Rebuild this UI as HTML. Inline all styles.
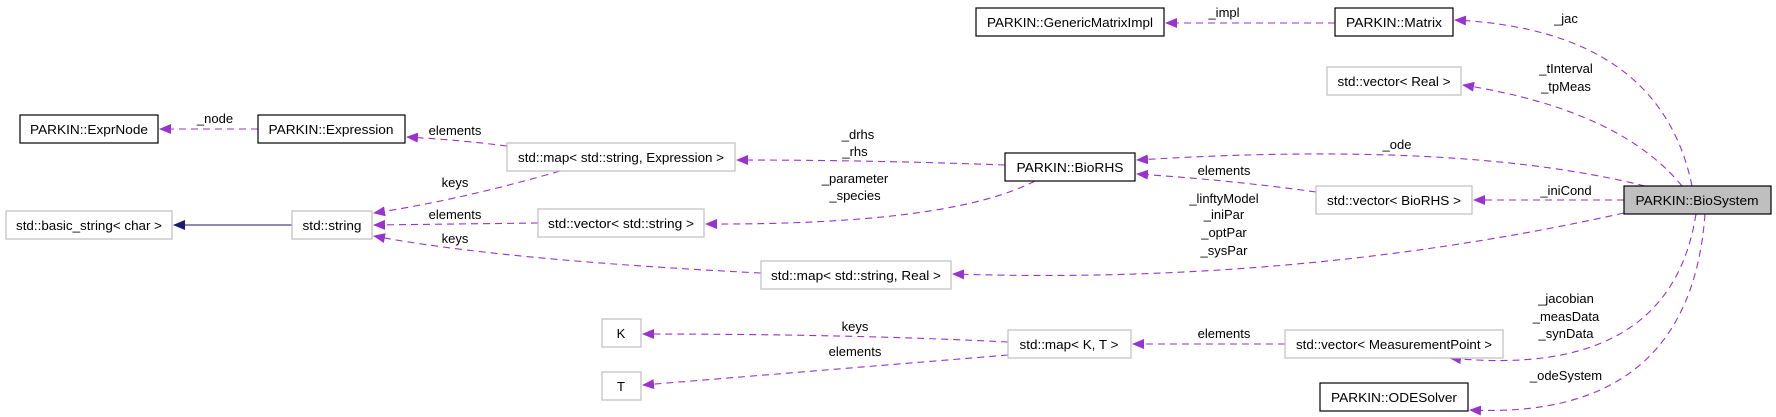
<!DOCTYPE html>
<html><head><meta charset="utf-8"><style>
html,body{margin:0;padding:0;background:#fff;}
svg{display:block;}
text{font-family:"Liberation Sans",sans-serif;font-size:13px;fill:#000;}
.e{fill:none;stroke:#9a32cd;stroke-width:1.1;stroke-dasharray:7,5;}
.bk{fill:#fff;stroke:#000;stroke-width:1.2;}
.gr{fill:#fff;stroke:#bfbfbf;stroke-width:1.2;}
</style></head><body>
<svg width="1776" height="417" viewBox="0 0 1776 417" xmlns="http://www.w3.org/2000/svg">
<defs>
<marker id="a" markerWidth="12" markerHeight="10" refX="11" refY="5" orient="auto" markerUnits="userSpaceOnUse">
<path d="M0,0 L12,5 L0,10 z" fill="#9a32cd"/></marker>
<marker id="n" markerWidth="12" markerHeight="10" refX="11" refY="5" orient="auto" markerUnits="userSpaceOnUse">
<path d="M0,0 L12,5 L0,10 z" fill="#191970"/></marker>
</defs>
<!-- edges -->
<path class="e" marker-end="url(#a)" d="M258,129 L160,129"/>
<path class="e" marker-end="url(#a)" d="M507,146 Q460,140 407,137"/>
<path class="e" marker-end="url(#a)" d="M1005,165 Q870,160 737,160"/>
<path class="e" marker-end="url(#a)" d="M538,223 L374,225"/>
<path class="e" marker-end="url(#a)" d="M560,171 Q460,200 374,213"/>
<path class="e" marker-end="url(#a)" d="M761,273 Q500,260 374,236"/>
<path class="e" marker-end="url(#a)" d="M1035,181 Q950,225 706,224"/>
<path class="e" d="M292,225 L174,225" style="stroke:#191970;stroke-dasharray:none" marker-end="url(#n)"/>
<path class="e" marker-end="url(#a)" d="M1008,342 Q850,334 643,334"/>
<path class="e" marker-end="url(#a)" d="M1008,355 Q850,368 643,385"/>
<path class="e" marker-end="url(#a)" d="M1285,344 L1133,344"/>
<path class="e" marker-end="url(#a)" d="M1335,23 L1166,23"/>
<path class="e" marker-end="url(#a)" d="M1692,186 Q1660,30 1455,20"/>
<path class="e" marker-end="url(#a)" d="M1682,186 Q1620,110 1463,85"/>
<path class="e" marker-end="url(#a)" d="M1645,186 Q1460,140 1137,160"/>
<path class="e" marker-end="url(#a)" d="M1316,192 Q1230,180 1137,174"/>
<path class="e" marker-end="url(#a)" d="M1624,200 L1474,200"/>
<path class="e" marker-end="url(#a)" d="M1624,213 Q1300,285 953,274"/>
<path class="e" marker-end="url(#a)" d="M1696,214 Q1670,380 1450,358"/>
<path class="e" marker-end="url(#a)" d="M1705,214 Q1690,420 1470,410"/>
<!-- nodes -->
<rect class="bk" x="20" y="115" width="138" height="28"/><text x="89" y="134" text-anchor="middle" textLength="118" lengthAdjust="spacingAndGlyphs">PARKIN::ExprNode</text>
<rect class="bk" x="258" y="115" width="147" height="28"/><text x="331" y="134" text-anchor="middle" textLength="125" lengthAdjust="spacingAndGlyphs">PARKIN::Expression</text>
<rect class="gr" x="507" y="143" width="228" height="28"/><text x="621" y="162" text-anchor="middle" textLength="206" lengthAdjust="spacingAndGlyphs">std::map&lt; std::string, Expression &gt;</text>
<rect class="gr" x="6" y="211" width="166" height="28"/><text x="89" y="230" text-anchor="middle" textLength="146" lengthAdjust="spacingAndGlyphs">std::basic_string&lt; char &gt;</text>
<rect class="gr" x="292" y="211" width="80" height="28"/><text x="332" y="230" text-anchor="middle" textLength="59" lengthAdjust="spacingAndGlyphs">std::string</text>
<rect class="gr" x="538" y="209" width="166" height="28"/><text x="621" y="228" text-anchor="middle" textLength="146" lengthAdjust="spacingAndGlyphs">std::vector&lt; std::string &gt;</text>
<rect class="gr" x="761" y="261" width="190" height="28"/><text x="856" y="280" text-anchor="middle" textLength="170" lengthAdjust="spacingAndGlyphs">std::map&lt; std::string, Real &gt;</text>
<rect class="gr" x="602" y="319" width="39" height="28"/><text x="621" y="338" text-anchor="middle">K</text>
<rect class="gr" x="602" y="372" width="39" height="28"/><text x="621" y="391" text-anchor="middle">T</text>
<rect class="bk" x="976" y="8" width="188" height="28"/><text x="1070" y="27" text-anchor="middle" textLength="166" lengthAdjust="spacingAndGlyphs">PARKIN::GenericMatrixImpl</text>
<rect class="bk" x="1335" y="8" width="118" height="28"/><text x="1394" y="27" text-anchor="middle" textLength="96" lengthAdjust="spacingAndGlyphs">PARKIN::Matrix</text>
<rect class="gr" x="1327" y="67" width="134" height="28"/><text x="1394" y="86" text-anchor="middle" textLength="113" lengthAdjust="spacingAndGlyphs">std::vector&lt; Real &gt;</text>
<rect class="bk" x="1005" y="153" width="130" height="28"/><text x="1070" y="172" text-anchor="middle" textLength="107" lengthAdjust="spacingAndGlyphs">PARKIN::BioRHS</text>
<rect class="gr" x="1316" y="186" width="156" height="28"/><text x="1394" y="205" text-anchor="middle" textLength="134" lengthAdjust="spacingAndGlyphs">std::vector&lt; BioRHS &gt;</text>
<rect x="1624" y="186" width="147" height="28" fill="#bfbfbf" stroke="#000" stroke-width="1.2"/><text x="1697" y="205" text-anchor="middle" textLength="123" lengthAdjust="spacingAndGlyphs">PARKIN::BioSystem</text>
<rect class="gr" x="1008" y="330" width="123" height="28"/><text x="1069" y="349" text-anchor="middle" textLength="99" lengthAdjust="spacingAndGlyphs">std::map&lt; K, T &gt;</text>
<rect class="gr" x="1285" y="330" width="218" height="28"/><text x="1394" y="349" text-anchor="middle" textLength="196" lengthAdjust="spacingAndGlyphs">std::vector&lt; MeasurementPoint &gt;</text>
<rect class="bk" x="1320" y="383" width="148" height="28"/><text x="1394" y="402" text-anchor="middle" textLength="126" lengthAdjust="spacingAndGlyphs">PARKIN::ODESolver</text>
<!-- labels -->
<g text-anchor="middle">
<text x="215" y="123">_node</text>
<text x="455" y="135">elements</text>
<text x="858" y="139">_drhs</text>
<text x="855" y="156">_rhs</text>
<text x="855" y="183">_parameter</text>
<text x="855" y="200">_species</text>
<text x="455" y="187">keys</text>
<text x="455" y="219">elements</text>
<text x="455" y="243">keys</text>
<text x="855" y="331">keys</text>
<text x="855" y="356">elements</text>
<text x="1224" y="17">_impl</text>
<text x="1566" y="23">_jac</text>
<text x="1566" y="73">_tInterval</text>
<text x="1566" y="91">_tpMeas</text>
<text x="1397" y="149">_ode</text>
<text x="1224" y="175">elements</text>
<text x="1566" y="195">_iniCond</text>
<text x="1224" y="203">_linftyModel</text>
<text x="1224" y="219">_iniPar</text>
<text x="1224" y="237">_optPar</text>
<text x="1224" y="255">_sysPar</text>
<text x="1566" y="303">_jacobian</text>
<text x="1566" y="321">_measData</text>
<text x="1566" y="338">_synData</text>
<text x="1224" y="338">elements</text>
<text x="1566" y="380">_odeSystem</text>
</g>
</svg>
</body></html>
